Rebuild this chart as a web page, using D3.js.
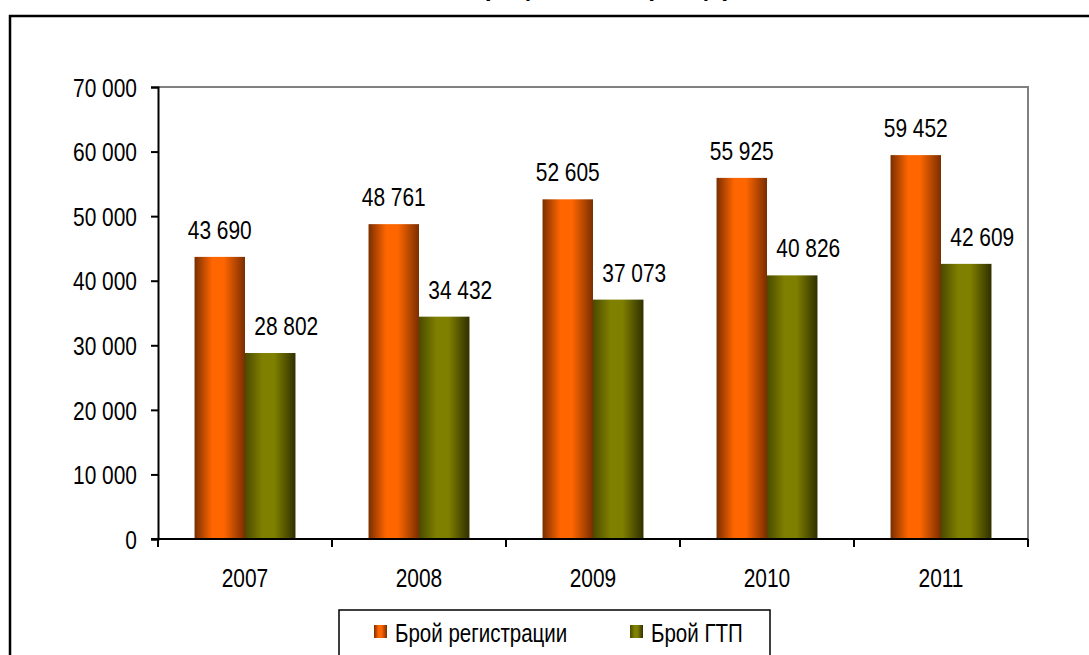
<!DOCTYPE html>
<html>
<head>
<meta charset="utf-8">
<script src="https://cdn.jsdelivr.net/npm/d3@7"></script>
<style>
  html, body { margin: 0; padding: 0; background: #fff; }
  svg { display: block; }
  text { font-family: "Liberation Sans Narrow", "Arial Narrow", "Liberation Sans", Arial, sans-serif; }
</style>
</head>
<body>
<svg id="chart" width="1089" height="655"></svg>
<script>
// ---- data ----
const categories = ["2007", "2008", "2009", "2010", "2011"];
const seriesNames = ["Брой регистрации", "Брой ГТП"];
const registrations = [43690, 48761, 52605, 55925, 59452];
const gtp = [28802, 34432, 37073, 40826, 42609];
const yTicks = [0, 10000, 20000, 30000, 40000, 50000, 60000, 70000];
const titleText = "Регистрации и ГТП (общо)";

// ---- layout ----
const W = 1089, H = 655;
const plot = { left: 158, right: 1028, top: 87, bottom: 539 };
const fontSize = 25.5;
const narrow = 0.82;

const svg = d3.select("#chart");

// gradients
const defs = svg.append("defs");
function grad(id, dark, bright, darkR) {
  const g = defs.append("linearGradient").attr("id", id)
    .attr("x1", "0%").attr("x2", "100%").attr("y1", "0%").attr("y2", "0%");
  g.append("stop").attr("offset", "0%").attr("stop-color", dark);
  g.append("stop").attr("offset", "35%").attr("stop-color", bright);
  g.append("stop").attr("offset", "58%").attr("stop-color", bright);
  g.append("stop").attr("offset", "100%").attr("stop-color", darkR);
}
grad("gOrange", "#7a2e00", "#ff6600", "#7a2e00");
grad("gGreen", "#4a4a00", "#808000", "#303000");
const fills = ["url(#gOrange)", "url(#gGreen)"];
const labelDx = [0, 16];

// outer frame
svg.append("rect").attr("x", 10).attr("y", 16).attr("width", W + 20).attr("height", H + 20)
  .attr("fill", "#fff").attr("stroke", "#000").attr("stroke-width", 2.5);

// cut-off title
svg.append("text").attr("class", "title").attr("x", 733).attr("y", -4)
  .attr("text-anchor", "end")
  .attr("font-size", 25).attr("font-weight", "bold").attr("font-style", "italic")
  .style("font-family", "'Liberation Sans', Arial, sans-serif")
  .text(titleText);

// scales
const x0 = d3.scaleBand().domain(categories).range([plot.left, plot.right]).paddingInner(0).paddingOuter(0);
const innerPad = 0.21;
const x1 = d3.scaleBand().domain(seriesNames)
  .range([x0.bandwidth() * innerPad, x0.bandwidth() * (1 - innerPad)]).padding(0);
const y = d3.scaleLinear().domain([0, 70000]).range([plot.bottom, plot.top]);

// plot area border (top/right gray)
svg.append("path")
  .attr("d", `M${plot.left},${plot.top}H${plot.right}V${plot.bottom}`)
  .attr("fill", "none").attr("stroke", "#808080").attr("stroke-width", 2);

// bars
const data = categories.map((c, i) => ({ cat: c, vals: [registrations[i], gtp[i]] }));
const groups = svg.append("g").selectAll("g").data(data).join("g")
  .attr("transform", d => `translate(${x0(d.cat)},0)`);
groups.selectAll("rect").data(d => d.vals.map((v, k) => ({ v, k })))
  .join("rect")
  .attr("x", d => x1(seriesNames[d.k]))
  .attr("y", d => y(d.v))
  .attr("width", x1.bandwidth())
  .attr("height", d => y(0) - y(d.v))
  .attr("fill", d => fills[d.k]);

const fmt = v => d3.format(",")(v).replace(/,/g, " ");

groups.selectAll("text.lbl").data(d => d.vals.map((v, k) => ({ v, k })))
  .join("text").attr("class", "lbl")
  .attr("x", d => x1(seriesNames[d.k]) + x1.bandwidth() / 2 + labelDx[d.k])
  .attr("y", d => y(d.v) - 18)
  .attr("text-anchor", "middle")
  .attr("font-size", fontSize).attr("fill", "#000")
  .text(d => fmt(d.v));

// y axis
const yAxis = d3.axisLeft(y).tickValues(yTicks).tickSize(7).tickPadding(14).tickFormat(fmt);
const gy = svg.append("g").attr("transform", `translate(${plot.left},0)`).call(yAxis);
gy.attr("font-family", null).attr("font-size", null);
gy.select(".domain").attr("stroke", "#000").attr("stroke-width", 2);
gy.selectAll(".tick line").attr("stroke", "#000").attr("stroke-width", 2);
gy.selectAll(".tick text").attr("font-size", fontSize).attr("fill", "#000")
  .attr("dy", "0.36em");

// x axis (ticks at category boundaries)
const gx = svg.append("g").attr("transform", `translate(0,${plot.bottom})`);
gx.append("line").attr("x1", plot.left - 7).attr("x2", plot.right)
  .attr("stroke", "#000").attr("stroke-width", 2);
const bounds = categories.map(c => x0(c)).concat([x0(categories[categories.length - 1]) + x0.bandwidth()]);
gx.selectAll("line.tk").data(bounds).join("line").attr("class", "tk")
  .attr("x1", d => d).attr("x2", d => d).attr("y1", 0).attr("y2", 8)
  .attr("stroke", "#000").attr("stroke-width", 2);
gx.selectAll("text").data(categories).join("text")
  .attr("x", d => x0(d) + x0.bandwidth() / 2)
  .attr("y", 48)
  .attr("text-anchor", "middle").attr("font-size", fontSize).attr("fill", "#000")
  .text(d => d);

// legend
const lg = svg.append("g");
lg.append("rect").attr("x", 339).attr("y", 610).attr("width", 431).attr("height", 80)
  .attr("fill", "#fff").attr("stroke", "#000").attr("stroke-width", 1.5);
const legendX = [374, 630];
seriesNames.forEach((s, k) => {
  lg.append("rect").attr("x", legendX[k]).attr("y", 625).attr("width", 13).attr("height", 13)
    .attr("fill", fills[k]);
  lg.append("text").attr("x", legendX[k] + 21).attr("y", 642)
    .attr("font-size", 25).attr("fill", "#000").text(s);
});

// emulate a narrow face by condensing glyphs horizontally
svg.selectAll("text:not(.title)").each(function () {
  const len = this.getComputedTextLength();
  d3.select(this).attr("textLength", len * narrow).attr("lengthAdjust", "spacingAndGlyphs");
});
</script>
</body>
</html>
